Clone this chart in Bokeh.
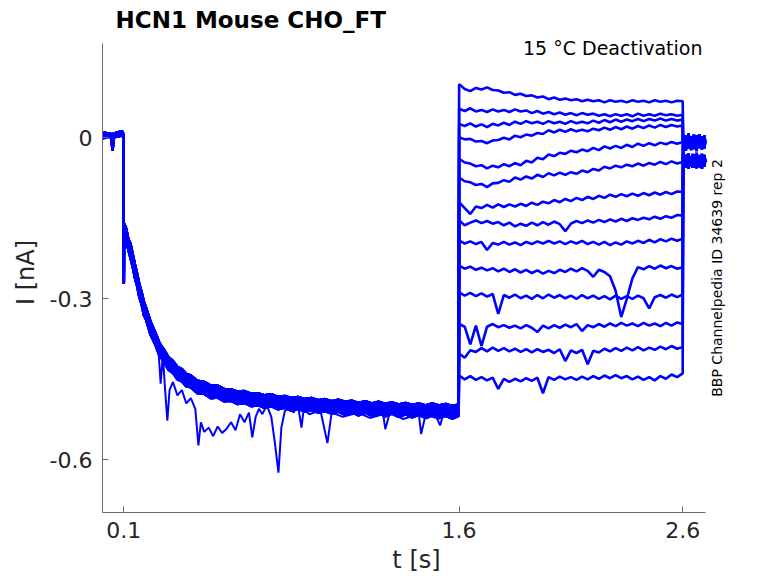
import math
from bokeh.plotting import figure
from bokeh.models import Range1d, FixedTicker, Label
from bokeh.embed import file_html
from bokeh.resources import INLINE

TITLE = "HCN1  Mouse  CHO_FT"
SUBTITLE = "15 °C  Deactivation"
SIDE_NOTE = "BBP Channelpedia ID 34639 rep 2"
X_LABEL = "t [s]"
Y_LABEL = "I [nA]"
X_TICKS = [0.1, 1.6, 2.6]
X_TICK_LABELS = ["0.1", "1.6", "2.6"]
Y_TICKS = [-0.6, -0.3, 0.0]
Y_TICK_LABELS = ["-0.6", "-0.3", "0"]
X_AXIS_SPAN = (0.005, 2.702)
Y_AXIS_SPAN = (-0.6982, 0.1757)

# holding period before the activation step
PRE_T = [0.000, 0.008, 0.016, 0.024, 0.032, 0.040, 0.046, 0.050, 0.054, 0.060, 0.068, 0.076, 0.084, 0.092, 0.0995]
PRE_A = [0.003, 0.010, 0.000, 0.008, 0.001, 0.009, -0.004, -0.024, -0.004, 0.008, 0.001, 0.011, 0.002, 0.013, 0.004]
PRE_B = [0.010, -0.002, 0.011, -0.001, 0.010, 0.000, 0.006, -0.010, 0.009, 0.000, 0.012, 0.001, 0.014, 0.002, 0.009]

# capacitive transient at the step
STEP_T = [0.1000, 0.1005, 0.1010]
STEP_I = [-0.272, -0.215, -0.168]

# activation (common to all sweeps): upper, middle and lower edge of the band
ACT_T = [0.102, 0.11, 0.12, 0.13, 0.14, 0.15, 0.16, 0.17, 0.18, 0.19, 0.20,
         0.22, 0.24, 0.26, 0.28, 0.30, 0.32, 0.34, 0.36, 0.38, 0.40,
         0.43, 0.46, 0.49, 0.52, 0.55, 0.58, 0.61, 0.64, 0.67, 0.70,
         0.73, 0.76, 0.79, 0.82, 0.85, 0.88, 0.91, 0.94, 0.97, 1.00,
         1.03, 1.06, 1.09, 1.12, 1.15, 1.18, 1.21, 1.24, 1.27, 1.30,
         1.33, 1.36, 1.39, 1.42, 1.45, 1.48, 1.51, 1.54, 1.57, 1.598]
ACT_UP = [-0.160, -0.168, -0.188, -0.197, -0.217, -0.236, -0.254, -0.274, -0.288, -0.306, -0.317,
          -0.343, -0.362, -0.383, -0.395, -0.409, -0.416, -0.427, -0.431, -0.440, -0.443,
          -0.453, -0.455, -0.462, -0.462, -0.468, -0.469, -0.473, -0.472, -0.477, -0.476,
          -0.480, -0.478, -0.483, -0.481, -0.485, -0.483, -0.487, -0.485, -0.489, -0.487,
          -0.491, -0.488, -0.492, -0.490, -0.494, -0.491, -0.495, -0.492, -0.496, -0.493,
          -0.497, -0.494, -0.498, -0.495, -0.499, -0.495, -0.499, -0.496, -0.500, -0.497]
ACT_MID = [-0.170, -0.180, -0.199, -0.208, -0.231, -0.244, -0.268, -0.281, -0.302, -0.313, -0.331,
           -0.351, -0.376, -0.390, -0.409, -0.416, -0.430, -0.434, -0.445, -0.447, -0.457,
           -0.460, -0.469, -0.469, -0.476, -0.475, -0.482, -0.480, -0.486, -0.484, -0.490,
           -0.487, -0.492, -0.489, -0.495, -0.492, -0.497, -0.494, -0.499, -0.496, -0.501,
           -0.498, -0.503, -0.499, -0.504, -0.500, -0.505, -0.501, -0.506, -0.502, -0.507,
           -0.503, -0.507, -0.504, -0.508, -0.505, -0.509, -0.505, -0.510, -0.506, -0.508]
ACT_LO = [-0.178, -0.196, -0.207, -0.224, -0.240, -0.261, -0.276, -0.297, -0.310, -0.330, -0.339,
          -0.367, -0.384, -0.406, -0.417, -0.432, -0.438, -0.450, -0.454, -0.463, -0.465,
          -0.476, -0.477, -0.485, -0.484, -0.491, -0.490, -0.496, -0.494, -0.500, -0.498,
          -0.503, -0.500, -0.506, -0.503, -0.508, -0.505, -0.510, -0.507, -0.512, -0.509,
          -0.514, -0.510, -0.516, -0.511, -0.517, -0.512, -0.518, -0.513, -0.519, -0.514,
          -0.520, -0.515, -0.521, -0.516, -0.522, -0.517, -0.522, -0.518, -0.523, -0.518]

# sweeps with downward excursions during activation
OUT_T = [0.240, 0.255, 0.265, 0.275, 0.285, 0.295, 0.305, 0.320, 0.340, 0.360,
         0.380, 0.400, 0.420, 0.434, 0.445, 0.460, 0.480, 0.500, 0.520, 0.540,
         0.560, 0.580, 0.600, 0.620, 0.640, 0.660, 0.675, 0.690, 0.705, 0.720,
         0.740, 0.760, 0.775, 0.792, 0.805, 0.820, 0.840, 0.860, 0.880, 0.900]
OUT_I = [-0.375, -0.392, -0.458, -0.405, -0.470, -0.527, -0.470, -0.455, -0.480, -0.470,
         -0.495, -0.485, -0.505, -0.573, -0.530, -0.548, -0.540, -0.556, -0.538, -0.550,
         -0.542, -0.530, -0.545, -0.515, -0.530, -0.512, -0.558, -0.520, -0.505, -0.515,
         -0.498, -0.520, -0.565, -0.624, -0.540, -0.510, -0.500, -0.512, -0.498, -0.500]
OUT2_T = [0.880, 0.895, 0.905, 0.930, 0.980, 1.011, 1.030, 1.080, 1.150, 1.200,
          1.260, 1.270, 1.290, 1.350, 1.420, 1.430, 1.450, 1.500, 1.515, 1.530, 1.570]
OUT2_I = [-0.500, -0.540, -0.505, -0.515, -0.508, -0.569, -0.512, -0.520, -0.512, -0.522,
          -0.515, -0.543, -0.512, -0.524, -0.515, -0.552, -0.516, -0.522, -0.536, -0.514, -0.512]

# deactivation tails (one per sweep)
TAIL_T = [1.600, 1.625, 1.650, 1.675, 1.700, 1.725, 1.750, 1.775, 1.800, 1.825,
          1.850, 1.875, 1.900, 1.925, 1.950, 1.975, 2.000, 2.025, 2.050, 2.075,
          2.100, 2.125, 2.150, 2.175, 2.200, 2.225, 2.250, 2.275, 2.300, 2.325,
          2.350, 2.375, 2.400, 2.425, 2.450, 2.475, 2.500, 2.525, 2.550, 2.575, 2.600]
TAIL_1 = [0.100, 0.091, 0.087, 0.093, 0.090, 0.094, 0.089, 0.088, 0.084, 0.085,
          0.080, 0.082, 0.078, 0.079, 0.075, 0.077, 0.072, 0.075, 0.071, 0.073,
          0.070, 0.072, 0.068, 0.071, 0.068, 0.070, 0.066, 0.070, 0.067, 0.069,
          0.066, 0.070, 0.067, 0.069, 0.066, 0.070, 0.067, 0.069, 0.066, 0.069, 0.068]
TAIL_2 = [0.054, 0.050, 0.055, 0.049, 0.052, 0.048, 0.053, 0.049, 0.052, 0.048,
          0.053, 0.049, 0.051, 0.046, 0.050, 0.045, 0.048, 0.044, 0.047, 0.043,
          0.046, 0.042, 0.046, 0.043, 0.045, 0.041, 0.044, 0.040, 0.044, 0.041,
          0.044, 0.040, 0.045, 0.041, 0.044, 0.041, 0.045, 0.042, 0.044, 0.041, 0.043]
TAIL_3 = [0.026, 0.022, 0.027, 0.021, 0.025, 0.020, 0.026, 0.023, 0.028, 0.024,
          0.030, 0.026, 0.031, 0.027, 0.030, 0.026, 0.031, 0.027, 0.030, 0.026,
          0.031, 0.027, 0.030, 0.027, 0.032, 0.028, 0.033, 0.029, 0.034, 0.030,
          0.034, 0.031, 0.035, 0.031, 0.035, 0.032, 0.036, 0.032, 0.035, 0.032, 0.034]
TAIL_4 = [0.001, -0.003, -0.002, -0.007, -0.006, -0.010, -0.005, -0.004, 0.000, -0.003,
          0.004, 0.001, 0.006, 0.004, 0.009, 0.007, 0.014, 0.010, 0.015, 0.011,
          0.016, 0.012, 0.015, 0.012, 0.017, 0.014, 0.019, 0.015, 0.020, 0.016,
          0.021, 0.017, 0.022, 0.018, 0.023, 0.019, 0.024, 0.020, 0.024, 0.021, 0.023]
TAIL_5 = [-0.039, -0.046, -0.048, -0.053, -0.051, -0.057, -0.052, -0.055, -0.049, -0.053,
          -0.047, -0.051, -0.043, -0.046, -0.037, -0.040, -0.031, -0.034, -0.028, -0.030,
          -0.024, -0.027, -0.022, -0.025, -0.019, -0.023, -0.016, -0.020, -0.015, -0.019,
          -0.013, -0.017, -0.011, -0.015, -0.010, -0.014, -0.009, -0.012, -0.008, -0.011, -0.008]
TAIL_6 = [-0.074, -0.081, -0.083, -0.088, -0.086, -0.092, -0.085, -0.084, -0.079, -0.082,
          -0.074, -0.078, -0.072, -0.076, -0.069, -0.073, -0.066, -0.070, -0.065, -0.069,
          -0.064, -0.067, -0.061, -0.064, -0.058, -0.061, -0.054, -0.057, -0.052, -0.055,
          -0.050, -0.053, -0.048, -0.052, -0.047, -0.050, -0.045, -0.049, -0.044, -0.048, -0.045]
TAIL_7 = [-0.120, -0.131, -0.142, -0.128, -0.131, -0.125, -0.130, -0.124, -0.129, -0.124,
          -0.128, -0.123, -0.127, -0.121, -0.125, -0.119, -0.122, -0.116, -0.120, -0.114,
          -0.118, -0.112, -0.116, -0.110, -0.114, -0.108, -0.112, -0.106, -0.110, -0.105,
          -0.109, -0.104, -0.108, -0.103, -0.107, -0.102, -0.106, -0.101, -0.105, -0.100, -0.101]
TAIL_8 = [-0.154, -0.163, -0.158, -0.154, -0.159, -0.155, -0.160, -0.157, -0.163, -0.158,
          -0.165, -0.160, -0.164, -0.158, -0.163, -0.157, -0.162, -0.156, -0.161, -0.174,
          -0.160, -0.155, -0.159, -0.154, -0.158, -0.153, -0.157, -0.152, -0.156, -0.151,
          -0.155, -0.150, -0.153, -0.149, -0.152, -0.147, -0.151, -0.146, -0.149, -0.144, -0.145]
TAIL_9 = [-0.191, -0.197, -0.193, -0.198, -0.194, -0.209, -0.196, -0.199, -0.194, -0.199,
          -0.195, -0.200, -0.194, -0.198, -0.193, -0.197, -0.192, -0.197, -0.193, -0.198,
          -0.193, -0.197, -0.192, -0.198, -0.194, -0.199, -0.194, -0.200, -0.195, -0.199,
          -0.193, -0.197, -0.192, -0.196, -0.190, -0.195, -0.189, -0.193, -0.188, -0.192, -0.188]
TAIL_10 = [-0.238, -0.244, -0.240, -0.246, -0.242, -0.247, -0.243, -0.249, -0.244, -0.250,
           -0.245, -0.251, -0.246, -0.252, -0.247, -0.253, -0.248, -0.252, -0.246, -0.250,
           -0.244, -0.249, -0.243, -0.248, -0.259, -0.246, -0.250, -0.258, -0.285, -0.334,
           -0.300, -0.262, -0.241, -0.245, -0.239, -0.244, -0.238, -0.243, -0.239, -0.244, -0.241]
TAIL_11 = [-0.288, -0.294, -0.289, -0.295, -0.290, -0.296, -0.291, -0.328, -0.293, -0.298,
           -0.292, -0.299, -0.294, -0.300, -0.293, -0.299, -0.292, -0.298, -0.293, -0.299,
           -0.294, -0.300, -0.293, -0.299, -0.294, -0.300, -0.295, -0.301, -0.294, -0.300,
           -0.295, -0.300, -0.294, -0.299, -0.318, -0.297, -0.293, -0.298, -0.292, -0.297, -0.292]
TAIL_12 = [-0.347, -0.352, -0.385, -0.350, -0.388, -0.352, -0.347, -0.353, -0.349, -0.354,
           -0.350, -0.355, -0.349, -0.354, -0.362, -0.350, -0.355, -0.349, -0.354, -0.348,
           -0.353, -0.347, -0.360, -0.349, -0.353, -0.347, -0.352, -0.346, -0.351, -0.345,
           -0.350, -0.346, -0.351, -0.345, -0.350, -0.346, -0.351, -0.345, -0.350, -0.344, -0.347]
TAIL_13 = [-0.402, -0.410, -0.396, -0.399, -0.392, -0.398, -0.391, -0.397, -0.392, -0.398,
           -0.393, -0.399, -0.394, -0.400, -0.394, -0.399, -0.395, -0.401, -0.394, -0.416,
           -0.396, -0.401, -0.395, -0.422, -0.397, -0.400, -0.393, -0.398, -0.392, -0.397,
           -0.391, -0.396, -0.390, -0.396, -0.391, -0.395, -0.389, -0.394, -0.388, -0.393, -0.390]
TAIL_14 = [-0.443, -0.450, -0.444, -0.451, -0.446, -0.452, -0.447, -0.468, -0.449, -0.455,
           -0.449, -0.454, -0.448, -0.453, -0.447, -0.476, -0.446, -0.451, -0.445, -0.450,
           -0.446, -0.451, -0.445, -0.450, -0.444, -0.449, -0.443, -0.448, -0.442, -0.448,
           -0.444, -0.450, -0.445, -0.451, -0.446, -0.452, -0.444, -0.449, -0.441, -0.446, -0.439]

# return to holding after 2.6 s
POST_T = [2.602, 2.608, 2.614, 2.620, 2.626, 2.632, 2.638, 2.644, 2.650, 2.656, 2.662,
          2.668, 2.674, 2.680, 2.686, 2.692, 2.697, 2.701]
POST_A1 = [0.006, -0.014, 0.004, -0.018, 0.008, -0.012, 0.002, -0.020, 0.006, -0.016, 0.004,
           -0.019, 0.007, -0.013, 0.003, -0.017, 0.005, -0.010]
POST_A2 = [-0.022, 0.000, -0.024, -0.002, -0.020, 0.003, -0.023, -0.004, -0.021, 0.001, -0.025,
           -0.003, -0.019, 0.002, -0.022, -0.001, -0.020, -0.006]
POST_B1 = [-0.030, -0.052, -0.032, -0.055, -0.029, -0.050, -0.034, -0.056, -0.031, -0.053, -0.028,
           -0.051, -0.033, -0.054, -0.030, -0.052, -0.032, -0.045]
POST_B2 = [-0.057, -0.034, -0.055, -0.031, -0.058, -0.036, -0.054, -0.030, -0.056, -0.035, -0.057,
           -0.032, -0.055, -0.037, -0.058, -0.033, -0.054, -0.040]

TRACE_COLOR = "#0000ff"
AXIS_COLOR = "#6b6b6b"
TEXT_COLOR = "#262626"
FONT = "DejaVu Sans"

# the drawing area reaches a little beyond the axes so that the annotations
# placed beside the axes are not cut off; the axis lines keep their own extent
p = figure(width=776, height=581, output_backend="svg", toolbar_location=None,
           x_range=Range1d(0.005, 2.8138), y_range=Range1d(-0.6982, 0.1962),
           min_border_left=102, min_border_right=46, min_border_top=32, min_border_bottom=69)
p.background_fill_color = "white"
p.border_fill_color = "white"
p.outline_line_color = None
p.grid.grid_line_color = None


def seg(ts, vs):
    n = min(len(ts), len(vs))
    return list(ts[:n]), list(vs[:n])


TAILS = [TAIL_1, TAIL_2, TAIL_3, TAIL_4, TAIL_5, TAIL_6, TAIL_7,
         TAIL_8, TAIL_9, TAIL_10, TAIL_11, TAIL_12, TAIL_13, TAIL_14]
PRES = [PRE_A, PRE_B]
ACTS = [ACT_UP, ACT_MID, ACT_LO]
POSTS = [POST_A1, POST_B1, POST_A2, POST_B2]

# dense overlap of the activation sweeps
band_t, band_lo = seg(ACT_T, ACT_LO)
_, band_up = seg(ACT_T, ACT_UP)
p.varea(x=band_t, y1=band_lo, y2=band_up, fill_color=TRACE_COLOR)

for k, tail in enumerate(TAILS):
    xs, ys = [], []
    for tt, vv in ((PRE_T, PRES[k % 2]), (STEP_T, STEP_I), (ACT_T, ACTS[k % 3]),
                   (TAIL_T, tail), (POST_T, POSTS[k % 4])):
        a, b = seg(tt, vv)
        xs += a
        ys += b
    p.line(xs, ys, line_color=TRACE_COLOR, line_width=2.6)

for tt, vv in ((OUT_T, OUT_I), (OUT2_T, OUT2_I)):
    a, b = seg(tt, vv)
    p.line(a, b, line_color=TRACE_COLOR, line_width=2.0)

# axes
for ax in (p.xaxis[0], p.yaxis[0]):
    ax.axis_line_color = AXIS_COLOR
    ax.axis_line_width = 1
    ax.major_tick_line_color = AXIS_COLOR
    ax.major_tick_in = 6
    ax.major_tick_out = 0
    ax.minor_tick_line_color = None
    ax.major_label_text_font = FONT
    ax.major_label_text_font_size = "22px"
    ax.major_label_text_color = TEXT_COLOR
    ax.axis_label_text_font = FONT
    ax.axis_label_text_font_size = "24px"
    ax.axis_label_text_font_style = "normal"
    ax.axis_label_text_color = TEXT_COLOR

p.xaxis.bounds = X_AXIS_SPAN
p.xaxis.ticker = FixedTicker(ticks=X_TICKS)
p.xaxis.major_label_overrides = dict(zip(X_TICKS, X_TICK_LABELS))
p.xaxis.axis_label = X_LABEL
p.xaxis.major_label_standoff = 9
p.xaxis.axis_label_standoff = 5

p.yaxis.bounds = Y_AXIS_SPAN
p.yaxis.ticker = FixedTicker(ticks=Y_TICKS)
p.yaxis.major_label_overrides = dict(zip(Y_TICKS, Y_TICK_LABELS))
p.yaxis.axis_label = Y_LABEL
p.yaxis.major_label_standoff = 10
p.yaxis.axis_label_standoff = 7

# title
p.title.text = TITLE
p.title.text_font = FONT
p.title.text_font_size = "23px"
p.title.text_font_style = "bold"
p.title.text_color = "black"
p.title.align = "left"
p.title.offset = 13
p.title.standoff = 0

# other texts
p.add_layout(Label(x=2.7154, y=0.1673, text=SUBTITLE, text_font=FONT, text_font_size="19px",
                   text_color="black", text_align="right", text_baseline="alphabetic"))
p.add_layout(Label(x=2.7512, y=-0.2612, text=SIDE_NOTE, text_font=FONT, text_font_size="14px",
                   text_color="black", angle=math.pi / 2, text_align="center",
                   text_baseline="middle"))

open("out.html", "w").write(file_html(p, INLINE, title=TITLE))
